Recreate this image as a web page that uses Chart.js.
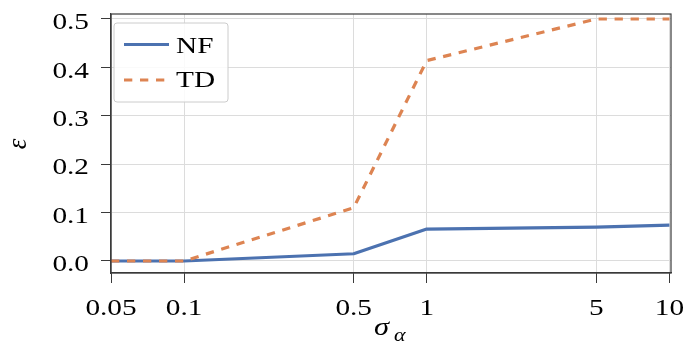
<!DOCTYPE html>
<html>
<head>
<meta charset="utf-8">
<script src="https://cdn.jsdelivr.net/npm/chart.js@4/dist/chart.umd.min.js"></script>
<style>
  html, body { margin: 0; padding: 0; background: #ffffff; }
  #wrap { width: 687px; height: 343px; }
</style>
</head>
<body>
<div id="wrap"><canvas id="c" width="687" height="343"></canvas></div>
<script>
// sigma_alpha values (log-scaled x axis) and error epsilon for each method
const sigmaAlpha = [0.05, 0.1, 0.5, 1, 5, 10];
const epsNF = [0, 0, 0.015, 0.066, 0.070, 0.074];
const epsTD = [0, 0, 0.11, 0.414, 0.5, 0.5];
const seriesNames = ['NF', 'TD'];
const xTicks = [0.05, 0.1, 0.5, 1, 5, 10];
const yTicks = [0.0, 0.1, 0.2, 0.3, 0.4, 0.5];

const BLUE = '#4C72B0';
const ORANGE = '#DD8452';
const SERIF = '"Liberation Serif", "Times New Roman", serif';
const SPINE = '#3a3a3a';
const TEXT_SIZE = 24;
const WIDEN = 1.22;   // horizontal widening of the serif glyphs

const toPoints = (ys) => sigmaAlpha.map((x, i) => ({ x: x, y: ys[i] }));

// text drawn with a slight horizontal widening
function wideText(ctx, str, x, y, align, font) {
  ctx.save();
  ctx.translate(x, y);
  ctx.scale(WIDEN, 1);
  ctx.font = font;
  ctx.textAlign = align;
  ctx.textBaseline = 'alphabetic';
  ctx.fillStyle = '#000';
  ctx.fillText(str, 0, 0);
  ctx.restore();
}

// frame around the plot area
const framePlugin = {
  id: 'frame',
  afterDatasetsDraw(chart) {
    const a = chart.chartArea, ctx = chart.ctx;
    ctx.save();
    ctx.strokeStyle = SPINE;
    ctx.lineWidth = 1.2;
    ctx.strokeRect(a.left, a.top, a.right - a.left, a.bottom - a.top);
    ctx.restore();
  }
};

// tick labels placed from the chart's own scales
const tickLabelPlugin = {
  id: 'tickLabels',
  afterDraw(chart) {
    const ctx = chart.ctx;
    const font = TEXT_SIZE + 'px ' + SERIF;
    const xs = chart.scales.x, ys = chart.scales.y;
    xTicks.forEach(v => {
      wideText(ctx, String(v), xs.getPixelForValue(v), 315, 'center', font);
    });
    yTicks.forEach(v => {
      wideText(ctx, v.toFixed(1), 89, ys.getPixelForValue(v) + 10.3, 'right', font);
    });
  }
};

// boxed legend in the upper-left corner of the plot
const legendPlugin = {
  id: 'boxLegend',
  afterDraw(chart) {
    const ctx = chart.ctx;
    const bx = 114, by = 23, bw = 114, bh = 79, r = 3;
    ctx.save();
    ctx.beginPath();
    ctx.moveTo(bx + r, by);
    ctx.arcTo(bx + bw, by, bx + bw, by + bh, r);
    ctx.arcTo(bx + bw, by + bh, bx, by + bh, r);
    ctx.arcTo(bx, by + bh, bx, by, r);
    ctx.arcTo(bx, by, bx + bw, by, r);
    ctx.closePath();
    ctx.fillStyle = 'rgba(255,255,255,0.85)';
    ctx.fill();
    ctx.strokeStyle = '#cccccc';
    ctx.lineWidth = 1;
    ctx.stroke();

    const rows = [{ line: 44.5, base: 53.3 }, { line: 80, base: 87.3 }];
    chart.data.datasets.forEach((ds, i) => {
      const row = rows[i];
      ctx.beginPath();
      ctx.setLineDash(ds.borderDash || []);
      ctx.strokeStyle = ds.borderColor;
      ctx.lineWidth = ds.borderWidth;
      ctx.lineCap = 'butt';
      ctx.moveTo(124, row.line);
      ctx.lineTo(169, row.line);
      ctx.stroke();
      ctx.setLineDash([]);
      wideText(ctx, ds.label, 176, row.base, 'left', TEXT_SIZE + 'px ' + SERIF);
    });
    ctx.restore();
  }
};

// axis titles: epsilon (rotated) and sigma with subscript alpha
const titlePlugin = {
  id: 'axisTitles',
  afterDraw(chart) {
    const ctx = chart.ctx;
    ctx.save();
    ctx.fillStyle = '#000';
    ctx.translate(18.5, 144);
    ctx.rotate(-Math.PI / 2);
    ctx.font = 'italic 27px ' + SERIF;
    ctx.textAlign = 'center';
    ctx.textBaseline = 'middle';
    ctx.fillText('ε', 0, 0);
    ctx.restore();

    wideText(ctx, 'σ', 374, 335, 'left', 'italic 25px ' + SERIF);
    wideText(ctx, 'α', 394, 340.5, 'left', 'italic 18px ' + SERIF);
  }
};

new Chart(document.getElementById('c'), {
  type: 'line',
  data: {
    datasets: [
      {
        label: seriesNames[0],
        data: toPoints(epsNF),
        borderColor: BLUE,
        backgroundColor: BLUE,
        borderWidth: 3.2,
        borderJoinStyle: 'round',
        pointRadius: 0,
        tension: 0,
        order: 2
      },
      {
        label: seriesNames[1],
        data: toPoints(epsTD),
        borderColor: ORANGE,
        backgroundColor: ORANGE,
        borderWidth: 3.2,
        borderDash: [8.3, 7.7],
        pointRadius: 0,
        tension: 0,
        order: 1
      }
    ]
  },
  options: {
    responsive: false,
    animation: false,
    devicePixelRatio: 1,
    layout: { padding: { left: 0, right: 16, top: 14, bottom: 0 } },
    plugins: { legend: { display: false }, tooltip: { enabled: false } },
    scales: {
      x: {
        type: 'logarithmic',
        min: 0.05,
        max: 10.15,
        afterBuildTicks: (s) => { s.ticks = xTicks.map(v => ({ value: v })); },
        afterFit: (s) => { s.height = 70; },
        ticks: { display: false, autoSkip: false, maxRotation: 0 },
        grid: { color: '#dcdcdc', lineWidth: 1, tickLength: 10, tickColor: SPINE, drawTicks: true },
        border: { color: SPINE, width: 1.2 }
      },
      y: {
        type: 'linear',
        min: -0.0248,
        max: 0.5103,
        afterBuildTicks: (s) => { s.ticks = yTicks.map(v => ({ value: v })); },
        afterFit: (s) => { s.width = 111; },
        ticks: { display: false },
        grid: { color: '#dcdcdc', lineWidth: 1, tickLength: 10, tickColor: SPINE, drawTicks: true },
        border: { color: SPINE, width: 1.2 }
      }
    }
  },
  plugins: [framePlugin, tickLabelPlugin, legendPlugin, titlePlugin]
});
</script>
</body>
</html>
